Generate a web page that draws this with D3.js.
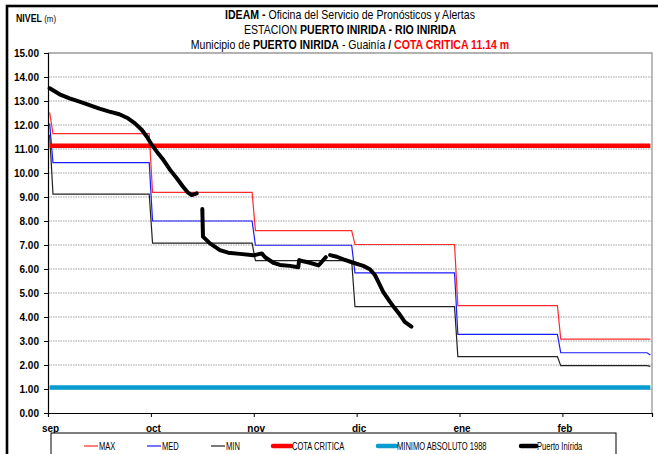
<!DOCTYPE html>
<html>
<head>
<meta charset="utf-8">
<script src="https://cdn.jsdelivr.net/npm/d3@7"></script>
<style>
  html, body { margin: 0; padding: 0; background: #fff; }
  svg { display: block; }
  .narrow { font-family: "Liberation Sans Narrow", "Arial Narrow", "Liberation Sans", Arial, sans-serif; }
  .axis text { font-family: "Liberation Sans", Arial, sans-serif; font-weight: bold; font-size: 10px; fill: #000; }
</style>
</head>
<body>
<svg id="chart" width="658" height="454"></svg>
<script>
// Season runs from 31 Aug (day 0) to 28 Feb (day 181), one slot per day.
const monthLabels = ["sep", "oct", "nov", "dic", "ene", "feb"];
const monthTickDays = [0, 31, 62, 93, 124, 155];
const monthStartDays = [1, 31, 62, 92, 123, 154];
const lastDay = 181;

// Monthly historical statistics (m), with the first and last day values
const maxFirst = 12.52, maxMonthly = [11.64, 9.19, 7.60, 7.02, 4.47, 3.08], maxLast = 3.08;
const medFirst = 12.06, medMonthly = [10.43, 8.00, 6.99, 5.84, 3.28, 2.51], medLast = 2.42;
const minFirst = 11.60, minMonthly = [9.12, 7.08, 6.35, 4.43, 2.35, 1.97], minLast = 1.94;

// Reference levels (m)
const cotaCritica = 11.14;
const minimoAbsoluto1988 = 1.06;

// Observed levels at Puerto Inírida (day of season, level m); null = no reading
const puertoDays = [0, 3, 6, 9, 12, 15, 18, 21, 23.6, 25.7, 27.8, 29.3, 30.8, 32.3, 34.3, 36.3, 38.3, 40.2, 41.7, 42.8, 44.3,
  45, 46, 46.2, 48.3, 51.3, 53.8, 57.3, 61.4, 63.9, 64.9, 67.4, 69.4, 72.4, 74.9, 75.2, 76.4, 78.4, 81, 82, 83.2,
  83.8, 84.5, 86.5, 88.5, 91.5, 94.5, 96.5, 98, 99, 100.5, 102.5, 104, 105.6, 107, 109];
const puertoLevels = [13.53, 13.28, 13.11, 12.97, 12.83, 12.68, 12.56, 12.45, 12.28, 12.07, 11.79, 11.51, 11.17, 10.89, 10.54, 10.13, 9.78, 9.43, 9.18, 9.08, 9.15,
  null, 8.50, 7.35, 7.07, 6.79, 6.68, 6.63, 6.57, 6.65, 6.49, 6.26, 6.17, 6.13, 6.07, 6.37, 6.32, 6.26, 6.15, 6.30, 6.49,
  null, 6.58, 6.51, 6.40, 6.26, 6.13, 5.99, 5.75, 5.47, 5.05, 4.64, 4.36, 4.08, 3.80, 3.60];

const yTicks = d3.range(0, 16);

// Daily step series built from the monthly statistics
function monthlySeries(first, monthly, last) {
  const pts = [[0, first]];
  monthly.forEach((v, m) => {
    const start = monthStartDays[m];
    const end = m < monthly.length - 1 ? monthStartDays[m + 1] - 1 : lastDay - 1;
    pts.push([start, v], [end, v]);
  });
  pts.push([lastDay, last]);
  return pts;
}

const svg = d3.select("#chart");
const plot = { left: 48, right: 652, top: 53, bottom: 413 };
const condense = 0.88; // horizontal squeeze for the narrow title lettering

const x = d3.scaleLinear().domain([0, lastDay + 1]).range([plot.left, plot.right]);
const y = d3.scaleLinear().domain([0, 15]).range([plot.bottom, plot.top]);
const xc = d => x(d + 0.5);

// Outer frame
svg.append("rect").attr("x", 7).attr("y", 6).attr("width", 700).attr("height", 500)
  .attr("fill", "none").attr("stroke", "#000").attr("stroke-width", 2.6);

// Gridlines
svg.append("g").selectAll("line").data(yTicks.filter(t => t > 0 && t < 15)).join("line")
  .attr("x1", plot.left).attr("x2", plot.right)
  .attr("y1", d => y(d)).attr("y2", d => y(d))
  .attr("stroke", "#a0a0a0").attr("stroke-width", 1).attr("stroke-dasharray", "1.5,1");

// Plot-area border (top and right)
svg.append("path")
  .attr("d", `M${plot.left},${y(15)}H${plot.right}V${y(0)}`)
  .attr("fill", "none").attr("stroke", "#999").attr("stroke-width", 1.3);

// Series
const line = d3.line().x(d => xc(d[0])).y(d => y(d[1]));

const series = [
  { pts: monthlySeries(maxFirst, maxMonthly, maxLast), color: "#ff2a2a", width: 1.2 },
  { pts: monthlySeries(medFirst, medMonthly, medLast), color: "#1a1aff", width: 1.2 },
  { pts: monthlySeries(minFirst, minMonthly, minLast), color: "#222", width: 1.2 }
];
series.forEach(s => {
  svg.append("path").attr("d", line(s.pts)).attr("fill", "none")
    .attr("stroke", s.color).attr("stroke-width", s.width);
});

svg.append("path").attr("d", line([[0, cotaCritica], [lastDay, cotaCritica]]))
  .attr("fill", "none").attr("stroke", "#ff0000").attr("stroke-width", 4.5);
svg.append("path").attr("d", line([[0, minimoAbsoluto1988], [lastDay, minimoAbsoluto1988]]))
  .attr("fill", "none").attr("stroke", "#0a9bd0").attr("stroke-width", 4.5);

const puerto = puertoDays.map((d, i) => [d, puertoLevels[i]]);
svg.append("path")
  .attr("d", d3.line().defined(d => d[1] !== null).x(d => xc(d[0])).y(d => y(d[1]))(puerto))
  .attr("fill", "none").attr("stroke", "#000").attr("stroke-width", 4)
  .attr("stroke-linejoin", "round").attr("stroke-linecap", "round");

// Axes
const yAxis = svg.append("g").attr("class", "axis")
  .attr("transform", `translate(${plot.left},0)`)
  .call(d3.axisLeft(y).tickValues(yTicks).tickFormat(d3.format(".2f")).tickSize(4).tickPadding(5));
yAxis.select(".domain").attr("stroke", "#000").attr("stroke-width", 1.2);

const xAxis = svg.append("g").attr("class", "axis")
  .attr("transform", `translate(0,${plot.bottom})`)
  .call(d3.axisBottom(x).tickValues(monthTickDays).tickFormat((d, i) => monthLabels[i]).tickSize(4).tickPadding(8));
xAxis.select(".domain").attr("stroke", "#000").attr("stroke-width", 1.2);
xAxis.selectAll("text").attr("dx", 2);

// Titles
const title = svg.append("g").attr("class", "narrow").attr("text-anchor", "middle").attr("font-size", 12).attr("fill", "#000")
  .attr("transform", `translate(350,0) scale(${condense},1)`);
const t1 = title.append("text").attr("x", 0).attr("y", 19);
t1.append("tspan").attr("font-weight", "bold").text("IDEAM - ");
t1.append("tspan").text("Oficina del Servicio de Pronósticos y Alertas");
const t2 = title.append("text").attr("x", 0).attr("y", 34);
t2.append("tspan").text("ESTACION ");
t2.append("tspan").attr("font-weight", "bold").text("PUERTO INIRIDA - RIO INIRIDA");
const t3 = title.append("text").attr("x", 0).attr("y", 49);
t3.append("tspan").text("Municipio de ");
t3.append("tspan").attr("font-weight", "bold").text("PUERTO INIRIDA");
t3.append("tspan").text(" - Guainía  ");
t3.append("tspan").attr("font-weight", "bold").text("/  ");
t3.append("tspan").attr("font-weight", "bold").attr("fill", "#ff0000").text(`COTA CRITICA ${cotaCritica.toFixed(2)} m`);

const yl = svg.append("text").attr("class", "narrow").attr("font-size", 10)
  .attr("transform", `translate(16,22) scale(${condense},1)`);
yl.append("tspan").attr("font-weight", "bold").text("NIVEL ");
yl.append("tspan").attr("font-size", 9).text("(m)");

// Legend
const legendItems = [
  { name: "MAX", color: "#ff2a2a", width: 1.2, len: 14 },
  { name: "MED", color: "#1a1aff", width: 1.2, len: 14 },
  { name: "MIN", color: "#222", width: 1.2, len: 14 },
  { name: "COTA CRITICA", color: "#ff0000", width: 4.5, len: 18 },
  { name: "MINIMO ABSOLUTO 1988", color: "#0a9bd0", width: 4.5, len: 18 },
  { name: "Puerto Inírida", color: "#000", width: 4.5, len: 15 }
];
const legendStarts = [84, 147, 211, 273, 378, 521];
const legend = svg.append("g").attr("class", "narrow");
legend.append("rect").attr("x", 51).attr("y", 433).attr("width", 565).attr("height", 40)
  .attr("fill", "#fff").attr("stroke", "#000").attr("stroke-width", 1);
legendItems.forEach((it, i) => {
  const g = legend.append("g").attr("transform", `translate(${legendStarts[i]},446)`);
  g.append("line").attr("x1", 0).attr("x2", it.len).attr("stroke", it.color).attr("stroke-width", it.width)
    .attr("stroke-linecap", it.width > 2 ? "round" : "butt");
  g.append("text").attr("font-size", 10.5)
    .attr("transform", `translate(${it.len + 1},3.8) scale(0.72,1)`).text(it.name);
});
</script>
</body>
</html>
